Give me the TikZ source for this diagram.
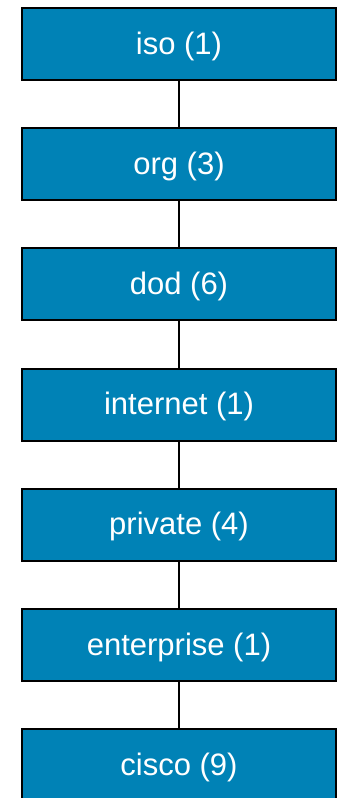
\documentclass[tikz,border=0pt]{standalone}
\usepackage{fontspec}
\setmainfont{Liberation Sans}
\definecolor{oidblue}{RGB}{0,130,182}
\begin{document}
\begin{tikzpicture}[x=1pt,y=-1pt,
  oidbox/.style={draw=black,line width=2pt,fill=oidblue,text=white,
    minimum width=314pt,minimum height=72pt,inner sep=0pt,
    text height=26pt,text depth=6pt,
    font=\fontsize{31}{36}\selectfont},
  link/.style={draw=black,line width=2pt}]
  \useasboundingbox (0,0) rectangle (343,798);
  \begin{scope}
  \clip (0,0) rectangle (343,798);
  \node[oidbox] (iso) at (179,44) {iso (1)};
  \node[oidbox] (org) at (179,164.2) {org (3)};
  \node[oidbox] (dod) at (179,284.4) {dod (6)};
  \node[oidbox] (internet) at (179,404.6) {internet (1)};
  \node[oidbox] (private) at (179,524.8) {private (4)};
  \node[oidbox] (enterprise) at (179,645) {enterprise (1)};
  \node[oidbox] (cisco) at (179,765.2) {cisco (9)};
  \draw[link] (iso) -- (org);
  \draw[link] (org) -- (dod);
  \draw[link] (dod) -- (internet);
  \draw[link] (internet) -- (private);
  \draw[link] (private) -- (enterprise);
  \draw[link] (enterprise) -- (cisco);
  \end{scope}
\end{tikzpicture}
\end{document}
